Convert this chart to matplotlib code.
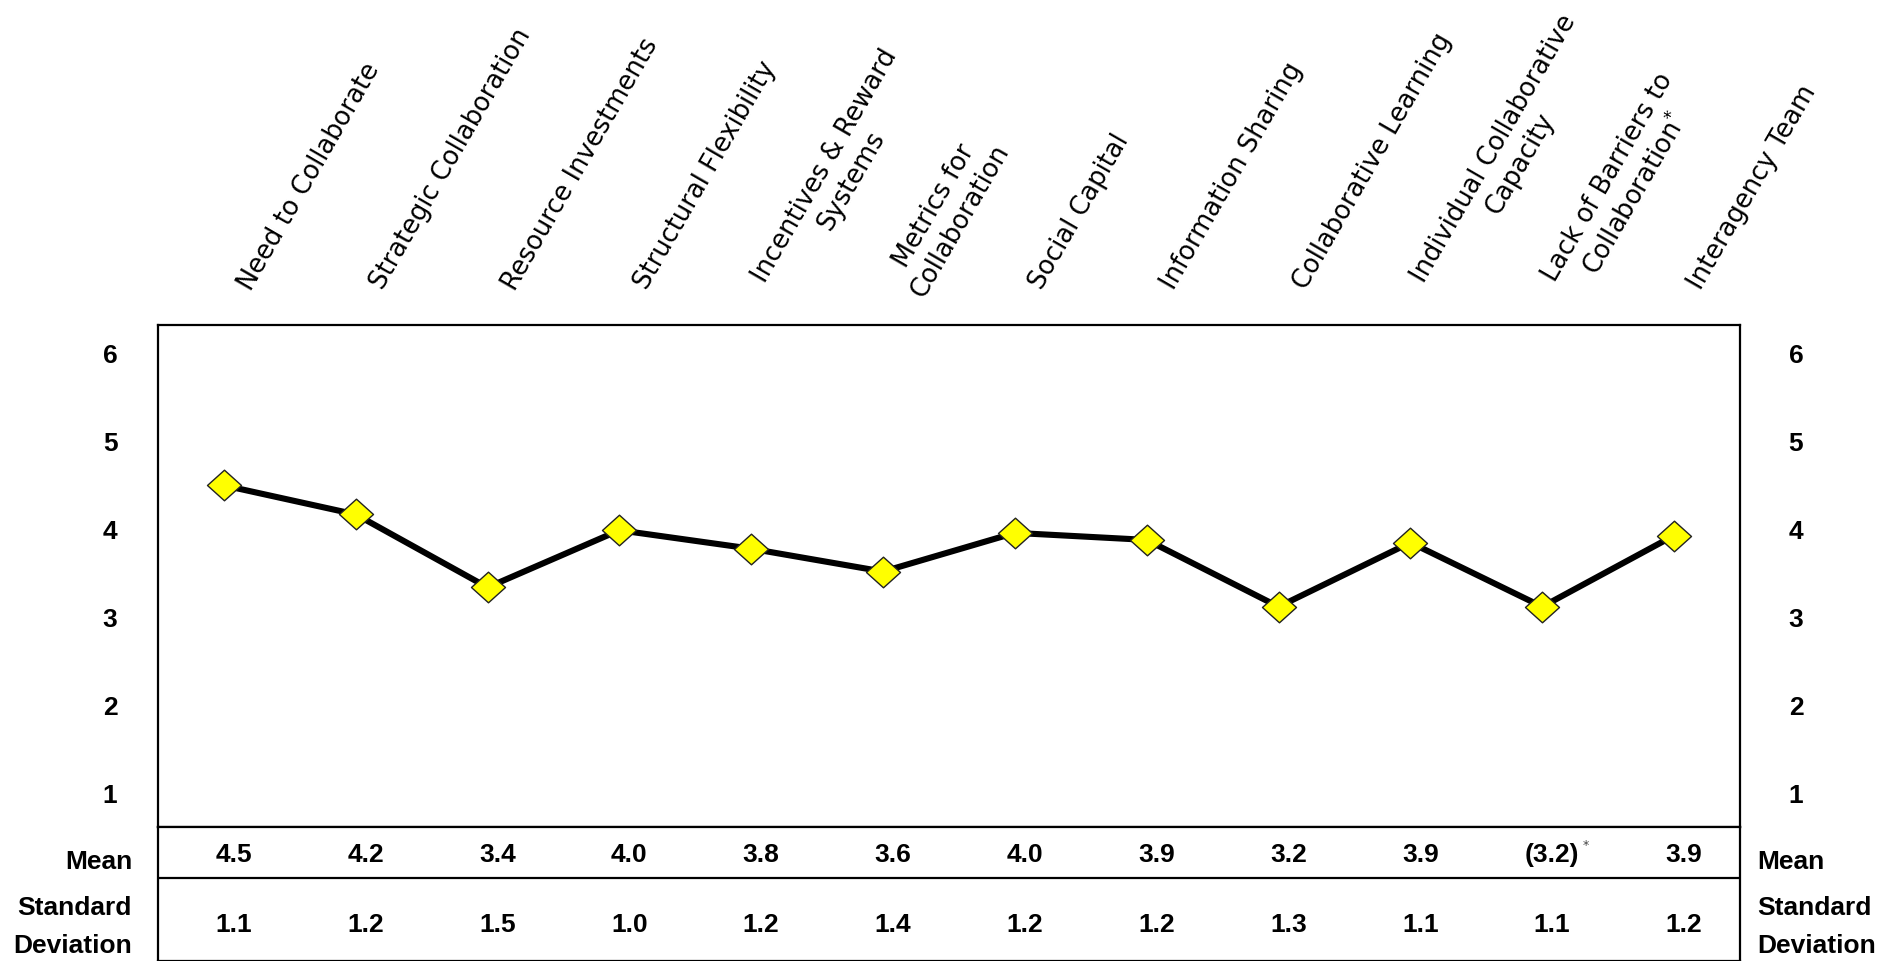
import matplotlib
matplotlib.use("Agg")
import matplotlib.pyplot as plt
import matplotlib.transforms as mtransforms
from matplotlib.path import Path

# ---------------- data ----------------
categories = [
    "Need to Collaborate",
    "Strategic Collaboration",
    "Resource Investments",
    "Structural Flexibility",
    "Incentives & Reward\nSystems",
    "Metrics for\nCollaboration",
    "Social Capital",
    "Information Sharing",
    "Collaborative Learning",
    "Individual Collaborative\nCapacity",
    "Lack of Barriers to\nCollaboration$^{*}$",
    "Interagency Team",
]
plotted_values = [4.50, 4.17, 3.34, 3.99, 3.78, 3.52, 3.96, 3.88, 3.12, 3.85, 3.12, 3.93]
mean_labels = ["4.5", "4.2", "3.4", "4.0", "3.8", "3.6", "4.0", "3.9", "3.2", "3.9", "(3.2)", "3.9"]
sd_labels = ["1.1", "1.2", "1.5", "1.0", "1.2", "1.4", "1.2", "1.2", "1.3", "1.1", "1.1", "1.2"]
y_ticks = [1, 2, 3, 4, 5, 6]

# ---------------- layout ----------------
W, H = 1902, 961
fig = plt.figure(figsize=(W / 100, H / 100), dpi=100)

left_px, right_px = 158, 1740
top_px, mid_px = 325, 827
row_split_px = 878

axl = left_px / W
axw = (right_px - left_px) / W
ax = fig.add_axes([axl, 1 - mid_px / H, axw, (mid_px - top_px) / H])
tab = fig.add_axes([axl, 0.0, axw, 1 - mid_px / H])

n = len(categories)
xs = list(range(n))

FS = 19
bold = dict(family="Liberation Sans", fontweight="bold", color="black")

# main plot
ax.plot(xs, plotted_values, color="black", lw=4.4, zorder=2, solid_joinstyle="miter")
diamond = Path([(-1, 0), (0, 0.9), (1, 0), (0, -0.9), (-1, 0)],
               [Path.MOVETO, Path.LINETO, Path.LINETO, Path.LINETO, Path.CLOSEPOLY])
ax.plot(xs, plotted_values, linestyle="none", marker=diamond, markersize=24.5,
        markerfacecolor="#FFFF00", markeredgecolor="#222222", markeredgewidth=1.0, zorder=3)
ax.set_xlim(-0.5, n - 0.5)
ax.set_ylim(0.614, 6.325)
ax.set_xticks([])
ax.set_yticks([])
for s in ax.spines.values():
    s.set_linewidth(1.6)

# y tick labels on both sides
ytr = mtransforms.offset_copy(ax.get_yaxis_transform(), fig=fig, x=0, y=-9.5, units="dots")
for t in y_ticks:
    ax.text(-0.0303, t, str(t), transform=ytr, ha="center", va="baseline", fontsize=FS, **bold)
    ax.text(1.0354, t, str(t), transform=ytr, ha="center", va="baseline", fontsize=FS, **bold)

# category labels (rotated)
base = mtransforms.blended_transform_factory(ax.transData, ax.transAxes)
lab_tr = mtransforms.offset_copy(base, fig=fig, x=21, y=37, units="dots")
for i, lab in enumerate(categories):
    ax.text(i, 1.0, lab, transform=lab_tr, rotation=60, rotation_mode="anchor",
            ha="left", va="center", multialignment="center",
            fontsize=18.5, family="DejaVu Sans", color="black", clip_on=False)

# table
tab.set_xlim(-0.5, n - 0.5)
tab.set_ylim(0, 1)
tab.set_xticks([])
tab.set_yticks([])
for side in ["top", "left", "right", "bottom"]:
    tab.spines[side].set_linewidth(1.6)
split = (H - row_split_px) / (H - mid_px)
tab.axhline(split, color="black", lw=1.6)

for i in xs:
    tab.text(i + 0.075, 0.739, mean_labels[i], ha="center", va="baseline", fontsize=FS, **bold)
    tab.text(i + 0.075, 0.216, sd_labels[i], ha="center", va="baseline", fontsize=FS, **bold)
    if mean_labels[i].startswith("("):
        tab.text(i + 0.33, 0.86, "*", ha="center", va="center", fontsize=9,
                 family="DejaVu Sans", color="#444444")

# row labels on both sides
for xpos, ha in [(-0.0164, "right"), (1.0108, "left")]:
    tab.text(xpos, 0.687, "Mean", transform=tab.transAxes, ha=ha, va="baseline",
             fontsize=FS, **bold)
    tab.text(xpos, 0.343, "Standard", transform=tab.transAxes, ha=ha, va="baseline",
             fontsize=FS, **bold)
    tab.text(xpos, 0.060, "Deviation", transform=tab.transAxes, ha=ha, va="baseline",
             fontsize=FS, **bold)

fig.savefig("out.png", dpi=100, facecolor="white")
